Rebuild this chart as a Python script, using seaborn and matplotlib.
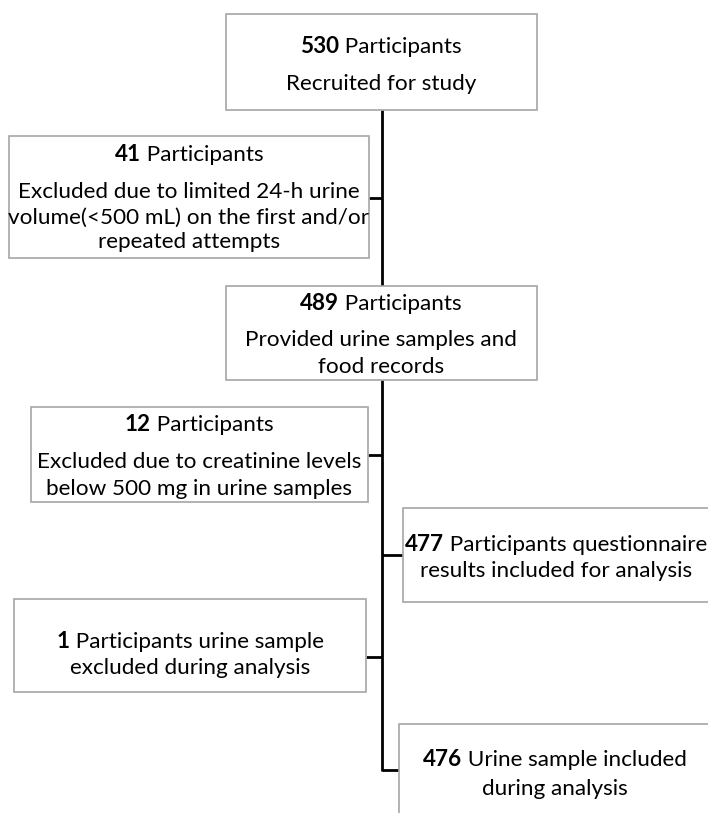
import matplotlib
matplotlib.use("Agg")
import matplotlib.pyplot as plt
import matplotlib.patches as mpatches
import seaborn as sns

# Flowchart content
counts = ["530", "41", "489", "12", "477", "1", "476"]
first_rest = [" Participants", " Participants", " Participants", " Participants",
              " Participants questionnaire", " Participants urine sample",
              " Urine sample included"]
more_lines = [
    ["Recruited for study"],
    ["Excluded due to limited 24-h urine", "volume(<500 mL) on the first and/or",
     "repeated attempts"],
    ["Provided urine samples and", "food records"],
    ["Excluded due to creatinine levels", "below 500 mg in urine samples"],
    ["results included for analysis"],
    ["excluded during analysis"],
    ["during analysis"],
]

# Layout in pixel units (x0, y0, x1, y1), y grows downward
boxes = [(226, 14, 537, 110), (9, 136, 369, 258), (226, 286, 537, 380),
         (31, 407, 368, 502), (403, 508, 760, 602), (14, 599, 366, 692),
         (399, 724, 760, 850)]
line_y = [[45, 82], [153, 190, 216, 240], [302, 338, 365], [423, 460, 487],
          [543, 569], [640, 666], [758, 787]]
text_cx = [381, 189, 381, 199, 556, None, 555]
side_y = [None, 198, None, 455, 555, 657, 770]
spine_x = 382

sns.set_theme(style="white")
plt.rcParams['font.family'] = ['Lato', 'DejaVu Sans']
plt.rcParams['text.color'] = 'black'
FS = 16.2

fig = plt.figure(figsize=(7.08, 8.13), dpi=100)
ax = fig.add_axes([0, 0, 1, 1])
ax.set_xlim(0, 708)
ax.set_ylim(813, 0)
ax.set_axis_off()
renderer = fig.canvas.get_renderer()

# main vertical spine
ax.plot([spine_x, spine_x], [boxes[0][3], boxes[2][1]], color='black', lw=2, solid_capstyle='butt')
ax.plot([spine_x, spine_x], [boxes[2][3], side_y[-1] + 1], color='black', lw=2, solid_capstyle='butt')

for i, (x0, y0, x1, y1) in enumerate(boxes):
    ax.add_patch(mpatches.Rectangle((x0, y0), x1 - x0, y1 - y0, facecolor='white',
                                    edgecolor='#a6a6a6', lw=1.2, zorder=2))
    cx = text_cx[i] if text_cx[i] is not None else (x0 + x1) / 2
    # side connector
    if side_y[i] is not None:
        xe = x1 if x1 < spine_x else x0
        ax.plot([xe, spine_x], [side_y[i], side_y[i]], color='black', lw=2,
                solid_capstyle='butt', zorder=1)
    # first line: bold count + regular text
    yb = line_y[i][0] + 8
    tb = ax.text(0, yb, counts[i], fontsize=FS, fontweight='bold', va='baseline', ha='left', zorder=3)
    tr = ax.text(0, yb, first_rest[i], fontsize=FS, va='baseline', ha='left', zorder=3)
    wb = tb.get_window_extent(renderer).width
    wr = tr.get_window_extent(renderer).width
    start = cx - (wb + wr) / 2
    tb.set_x(start)
    tr.set_x(start + wb)
    for ly, s in zip(line_y[i][1:], more_lines[i]):
        ax.text(cx, ly + 8, s, fontsize=FS, va='baseline', ha='center', zorder=3)

fig.savefig("out.png", dpi=100)
